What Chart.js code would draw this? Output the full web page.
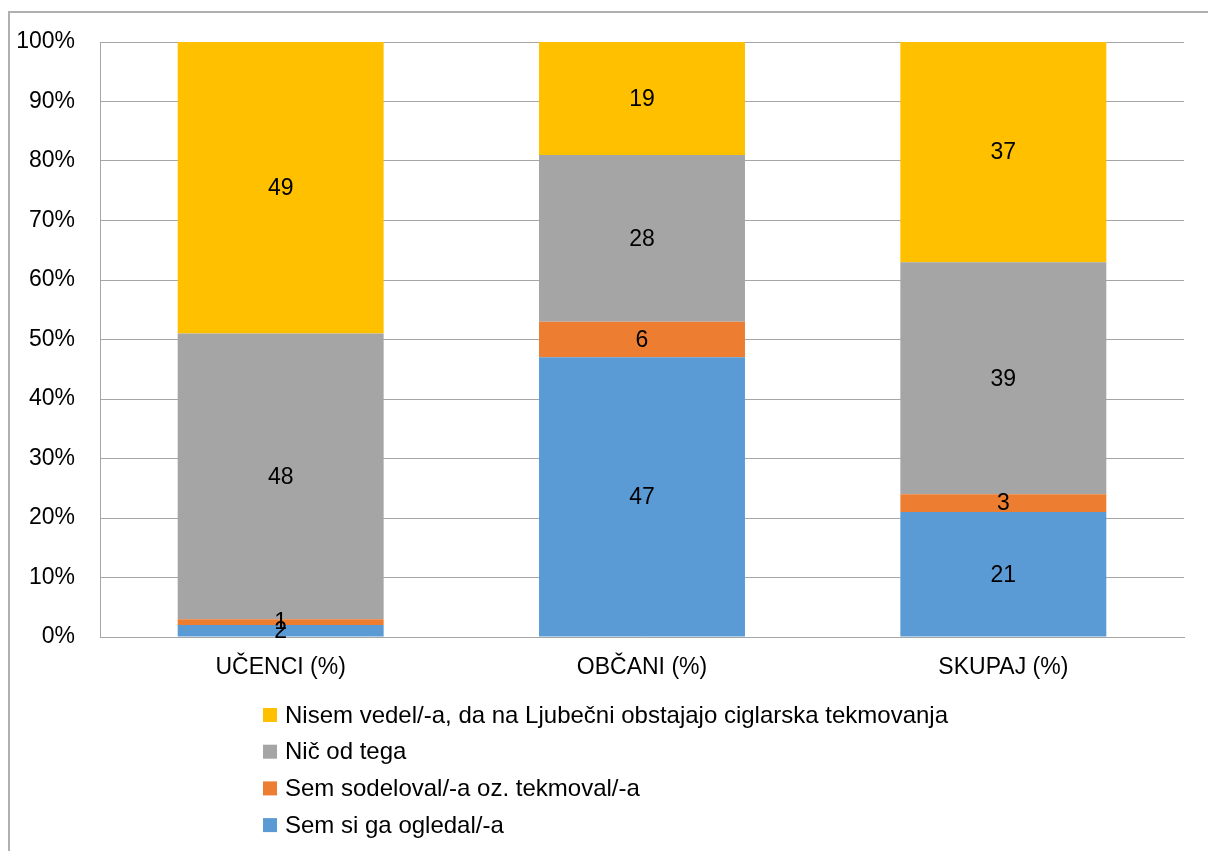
<!DOCTYPE html>
<html>
<head>
<meta charset="utf-8">
<script src="https://cdn.jsdelivr.net/npm/chart.js@4"></script>
<style>
  html, body { margin: 0; padding: 0; background: #fff; }
  #wrap { width: 1208px; height: 851px; position: relative; }
</style>
</head>
<body>
<div id="wrap"><canvas id="chart"></canvas></div>
<script>
const categories = ['UČENCI (%)', 'OBČANI (%)', 'SKUPAJ (%)'];
const seenValues = [2, 47, 21];
const competedValues = [1, 6, 3];
const noneValues = [48, 28, 39];
const unawareValues = [49, 19, 37];
const yTicks = [0, 10, 20, 30, 40, 50, 60, 70, 80, 90, 100];

const FONT = '"Liberation Sans", Arial, sans-serif';
const FONT_SIZE = 23;
const LEGEND_FONT_SIZE = 24;

// value labels in the middle of each segment
const segmentLabels = {
  id: 'segmentLabels',
  afterDatasetsDraw(chart) {
    const ctx = chart.ctx;
    ctx.save();
    ctx.font = FONT_SIZE + 'px ' + FONT;
    ctx.fillStyle = '#000';
    ctx.textAlign = 'center';
    ctx.textBaseline = 'middle';
    chart.data.datasets.forEach((ds, i) => {
      chart.getDatasetMeta(i).data.forEach((bar, j) => {
        const v = ds.data[j];
        ctx.fillText(String(v), bar.x, (bar.y + bar.base) / 2 + 1);
      });
    });
    ctx.restore();
  }
};

// outer frame + vertical legend below the plot
const frameAndLegend = {
  id: 'frameAndLegend',
  beforeDraw(chart) {
    const ctx = chart.ctx;
    ctx.save();
    ctx.strokeStyle = '#b0b0b0';
    ctx.lineWidth = 2;
    ctx.beginPath();
    ctx.moveTo(9, 851);
    ctx.lineTo(9, 12);
    ctx.lineTo(1208, 12);
    ctx.stroke();
    ctx.restore();
  },
  afterDraw(chart) {
    const ctx = chart.ctx;
    const items = chart.data.datasets.slice().reverse();
    ctx.save();
    ctx.font = LEGEND_FONT_SIZE + 'px ' + FONT;
    ctx.textBaseline = 'middle';
    ctx.textAlign = 'left';
    items.forEach((ds, k) => {
      const cy = 715 + k * 36.7;
      ctx.fillStyle = ds.backgroundColor;
      ctx.fillRect(263, cy - 7, 14, 14);
      ctx.fillStyle = '#000';
      ctx.fillText(ds.label, 285, cy + 1);
    });
    ctx.restore();
  }
};

new Chart(document.getElementById('chart'), {
  type: 'bar',
  data: {
    labels: categories,
    datasets: [
      { label: 'Sem si ga ogledal/-a', data: seenValues, backgroundColor: '#5B9BD5' },
      { label: 'Sem sodeloval/-a oz. tekmoval/-a', data: competedValues, backgroundColor: '#ED7D31' },
      { label: 'Nič od tega', data: noneValues, backgroundColor: '#A5A5A5' },
      { label: 'Nisem vedel/-a, da na Ljubečni obstajajo ciglarska tekmovanja', data: unawareValues, backgroundColor: '#FFC000' }
    ]
  },
  options: {
    responsive: true,
    maintainAspectRatio: false,
    animation: false,
    layout: { padding: { left: 0, top: 42, right: 24, bottom: 0 } },
    datasets: { bar: { categoryPercentage: 1, barPercentage: 0.57 } },
    scales: {
      x: {
        stacked: true,
        grid: { display: false, drawTicks: false },
        border: { display: true, color: '#a6a6a6', width: 1 },
        ticks: { color: '#000', font: { family: FONT, size: FONT_SIZE }, padding: 17 },
        afterFit: s => { s.height = 214; }
      },
      y: {
        stacked: true,
        min: 0,
        max: 100,
        afterBuildTicks: s => { s.ticks = yTicks.map(v => ({ value: v })); },
        grid: { color: '#a6a6a6', lineWidth: 1, drawTicks: false },
        border: { display: true, color: '#a6a6a6', width: 1 },
        ticks: { color: '#000', font: { family: FONT, size: FONT_SIZE }, padding: 25, callback: v => v + '%' },
        afterFit: s => { s.width = 100; }
      }
    },
    plugins: {
      legend: { display: false },
      tooltip: { enabled: false }
    }
  },
  plugins: [segmentLabels, frameAndLegend]
});
</script>
</body>
</html>
